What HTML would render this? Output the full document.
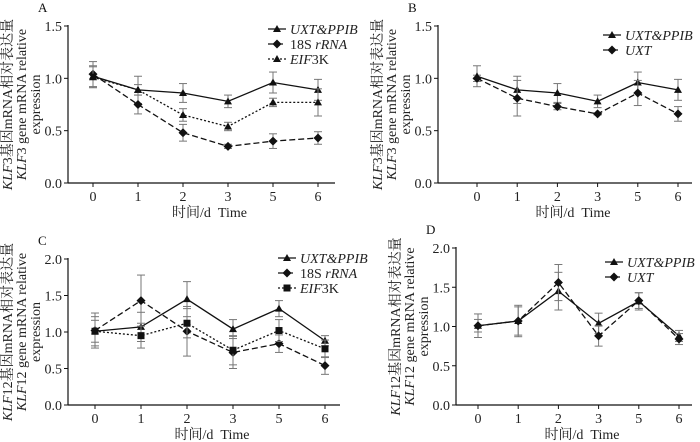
<!DOCTYPE html>
<html><head><meta charset="utf-8"><style>
body{margin:0;background:#fff}
svg{display:block;font-family:"Liberation Serif","Noto Serif CJK SC",serif}
</style></head><body>
<svg id="c" width="700" height="442" viewBox="0 0 700 442" xmlns="http://www.w3.org/2000/svg"></svg>
<script>
const days=["0","1","2","3","5","6"];
const aUxtPpib=[1.02,0.89,0.86,0.78,0.96,0.89];
const aUxtPpibErr=[0.1,0.13,0.09,0.06,0.1,0.1];
const a18s=[1.04,0.75,0.48,0.35,0.40,0.43];
const a18sErr=[0.12,0.09,0.08,0.02,0.07,0.06];
const aEif=[1.01,0.89,0.65,0.54,0.77,0.77];
const aEifErr=[0.1,0.05,0.06,0.04,0.04,0.13];
const bUxt=[1.0,0.81,0.73,0.66,0.86,0.66];
const bUxtErr=[0.03,0.17,0.03,0.01,0.12,0.07];
const cUxtPpib=[1.01,1.07,1.45,1.04,1.32,0.88];
const cUxtPpibErr=[0.15,0.2,0.24,0.13,0.11,0.07];
const c18s=[1.02,1.43,1.01,0.72,0.84,0.54];
const c18sErr=[0.24,0.35,0.34,0.22,0.12,0.12];
const cEif=[1.01,0.95,1.12,0.75,1.02,0.77];
const cEifErr=[0.2,0.17,0.2,0.2,0.15,0.12];
const dUxt=[1.01,1.07,1.56,0.88,1.33,0.84];
const dUxtErr=[0.08,0.18,0.23,0.13,0.1,0.07];
const ticks15=[0,0.5,1.0,1.5];
const ticks20=[0,0.5,1.0,1.5,2.0];

const svg=document.getElementById('c');
const NS="http://www.w3.org/2000/svg";
function el(t,a,p){const e=document.createElementNS(NS,t);for(const k in a)e.setAttribute(k,a[k]);(p||svg).appendChild(e);return e;}

function marker(g,type,x,y){
  if(type==='tri') return el('polygon',{points:`${x},${y-4} ${x-4},${y+3} ${x+4},${y+3}`,fill:'#111'},g);
  if(type==='dia') return el('polygon',{points:`${x},${y-4.5} ${x+4.5},${y} ${x},${y+4.5} ${x-4.5},${y}`,fill:'#111'},g);
  return el('rect',{x:x-3.5,y:y-3.5,width:7,height:7,fill:'#111'},g);
}

function panel(p){
  const g=el('g',{});
  
  
  const ys=v=>p.y0-(v/p.ymax)*(p.y0-p.yTop);
  const xs=i=>p.x0+i*p.dx;
  const lab=el('text',{x:p.ax-30,y:p.yTop-14,'font-size':13,fill:'#111'},g);lab.textContent=p.letter;
  
  el('line',{x1:p.ax,y1:p.yTop-1,x2:p.ax,y2:p.y0,stroke:'#111','stroke-width':1.2},g);
  el('line',{x1:p.ax,y1:p.y0,x2:p.xEnd,y2:p.y0,stroke:'#111','stroke-width':1.2},g);
  p.ticks.forEach(t=>{const y=ys(t);
    el('line',{x1:p.ax-4,y1:y,x2:p.ax,y2:y,stroke:'#111'},g);
    const tx=el('text',{x:p.ax-6,y:y+5,'font-size':14,'text-anchor':'end',fill:'#222'},g);tx.textContent=t.toFixed(1);
    });
  days.forEach((d,i)=>{const x=xs(i);
    el('line',{x1:x,y1:p.y0,x2:x,y2:p.y0+4,stroke:'#111'},g);
    const tx=el('text',{x:x,y:p.y0+18,'font-size':14,'text-anchor':'middle',fill:'#222'},g);tx.textContent=d;
    });
  const xt=el('text',{x:(p.ax+p.xEnd)/2+8,y:p.y0+34,'font-size':14,'text-anchor':'middle',fill:'#222'},g);
  xt.textContent='时间/d\u00a0\u00a0Time';
  const cy=(p.yTop+p.y0)/2;
  const yt=el('text',{transform:`translate(${p.ax-56},${cy}) rotate(-90)`,'font-size':14,'text-anchor':'middle',fill:'#222'},g);
  
  yt.innerHTML=`<tspan x="0" dy="0"><tspan font-style="italic">KLF</tspan>${p.gene}基因mRNA相对表达量</tspan><tspan x="0" dy="14"><tspan font-style="italic">KLF</tspan>${p.gene} gene mRNA relative</tspan><tspan x="0" dy="14">expression</tspan>`;
  p.series.forEach((s,si)=>{
    const sg=el('g',{},g);
    
    s.vals.forEach((v,i)=>{const x=xs(i),e=s.err[i];
      el('line',{x1:x,y1:ys(v-e),x2:x,y2:ys(v+e),stroke:'#777','stroke-width':1},sg);
      el('line',{x1:x-4,y1:ys(v-e),x2:x+4,y2:ys(v-e),stroke:'#777'},sg);
      el('line',{x1:x-4,y1:ys(v+e),x2:x+4,y2:ys(v+e),stroke:'#777'},sg);});
    el('polyline',{points:s.vals.map((v,i)=>xs(i)+','+ys(v)).join(' '),fill:'none',stroke:'#111','stroke-width':1.3,'stroke-dasharray':s.dash},sg);
    s.vals.forEach((v,i)=>{const m=marker(sg,s.m,xs(i),ys(v));
      });
    const ly=p.legY+si*15;
    const lg=el('g',{},g);
    el('line',{x1:p.legX,y1:ly,x2:p.legX+18,y2:ly,stroke:'#111','stroke-width':1.3,'stroke-dasharray':s.dash},lg);
    marker(lg,s.m,p.legX+9,ly);
    const lt=el('text',{x:p.legX+22,y:ly+5,'font-size':14,fill:'#222'},lg);lt.innerHTML=s.label;
  });
}
const L1='<tspan font-style="italic">UXT&amp;PPIB</tspan>',L2='18S <tspan font-style="italic">rRNA</tspan>',L3='<tspan font-style="italic">EIF</tspan>3K',L4='<tspan font-style="italic">UXT</tspan>';
panel({name:'panel-a',letter:'A',gene:'3',ax:68,yTop:26,y0:183,ymax:1.5,ticks:ticks15,x0:93,dx:45,xEnd:335,legX:268,legY:29,
 series:[{key:'uxt-ppib',vals:aUxtPpib,err:aUxtPpibErr,m:'tri',dash:'',label:L1},
 {key:'18s-rrna',vals:a18s,err:a18sErr,m:'dia',dash:'6,3',label:L2},
 {key:'eif3k',vals:aEif,err:aEifErr,m:'tri',dash:'2,2',label:L3}]});
panel({name:'panel-b',letter:'B',gene:'3',ax:438,yTop:26,y0:183,ymax:1.5,ticks:ticks15,x0:477,dx:40.2,xEnd:692,legX:603,legY:35,
 series:[{key:'uxt-ppib',vals:aUxtPpib,err:aUxtPpibErr,m:'tri',dash:'',label:L1},
 {key:'uxt',vals:bUxt,err:bUxtErr,m:'dia',dash:'6,3',label:L4}]});
panel({name:'panel-c',letter:'C',gene:'12',ax:68,yTop:259,y0:405,ymax:2.0,ticks:ticks20,x0:95,dx:46,xEnd:340,legX:278,legY:258,
 series:[{key:'uxt-ppib',vals:cUxtPpib,err:cUxtPpibErr,m:'tri',dash:'',label:L1},
 {key:'18s-rrna',vals:c18s,err:c18sErr,m:'dia',dash:'6,3',label:L2},
 {key:'eif3k',vals:cEif,err:cEifErr,m:'sq',dash:'2,2',label:L3}]});
panel({name:'panel-d',letter:'D',gene:'12',ax:456,yTop:248,y0:405,ymax:2.0,ticks:ticks20,x0:478,dx:40.2,xEnd:692,legX:605,legY:262,
 series:[{key:'uxt-ppib',vals:cUxtPpib,err:cUxtPpibErr,m:'tri',dash:'',label:L1},
 {key:'uxt',vals:dUxt,err:dUxtErr,m:'dia',dash:'6,3',label:L4}]});
</script>
</body></html>
